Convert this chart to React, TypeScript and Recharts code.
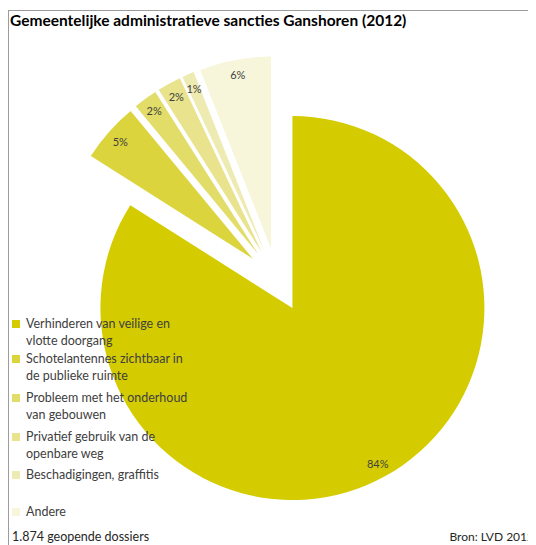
import { PieChart, Pie, Cell, Sector } from 'recharts';

const categories = [
  'Verhinderen van veilige en vlotte doorgang',
  'Schotelantennes zichtbaar in de publieke ruimte',
  'Probleem met het onderhoud van gebouwen',
  'Privatief gebruik van de openbare weg',
  'Beschadigingen, graffitis',
  'Andere',
];
const shares = [84, 5, 2, 2, 1, 6];
const colors = ['#D4CC00', '#DCD43C', '#E2DC68', '#E8E38C', '#EEEBB2', '#F7F5DA'];

const data = categories.map((name, i) => ({ name, value: shares[i] }));

const EXPLODE = 32;
const LABEL_R = 177;
const RADIAN = Math.PI / 180;

const ExplodedSlice = (props: any) => {
  const a = props.midAngle * RADIAN;
  return (
    <Sector
      cx={props.cx + EXPLODE * Math.cos(a)}
      cy={props.cy - EXPLODE * Math.sin(a)}
      innerRadius={props.innerRadius}
      outerRadius={props.outerRadius}
      startAngle={props.startAngle}
      endAngle={props.endAngle}
      fill={props.fill}
      stroke="none"
    />
  );
};

const renderLabel = ({ cx, cy, midAngle, percent }: any) => {
  const a = midAngle * RADIAN;
  const r = EXPLODE + LABEL_R;
  return (
    <text
      x={cx + r * Math.cos(a)}
      y={cy - r * Math.sin(a)}
      textAnchor="middle"
      dominantBaseline="central"
      fontSize={11}
      fill="#404040"
      fontFamily="Lato, sans-serif"
    >
      {`${Math.round(percent * 100)}%`}
    </text>
  );
};

const legendTops = [307, 342, 381, 420, 458, 495];
const legendLines = [
  ['Verhinderen van veilige en', 'vlotte doorgang'],
  ['Schotelantennes zichtbaar in', 'de publieke ruimte'],
  ['Probleem met het onderhoud', 'van gebouwen'],
  ['Privatief gebruik van de', 'openbare weg'],
  ['Beschadigingen, graffitis'],
  ['Andere'],
];

export default function App() {
  return (
    <div
      style={{
        position: 'relative',
        width: 528,
        height: 537,
        overflow: 'hidden',
        fontFamily: 'Lato, sans-serif',
        color: '#262626',
      }}
    >
      <div
        style={{
          position: 'absolute',
          left: 0,
          top: 2,
          width: 700,
          height: 700,
          borderTop: '1px solid #9c9c9c',
          borderLeft: '1px solid #9c9c9c',
        }}
      />
      <div
        style={{
          position: 'absolute',
          left: 2,
          top: 3,
          fontSize: 15.5,
          fontWeight: 700,
          color: '#000',
          whiteSpace: 'nowrap',
        }}
      >
        Gemeentelijke administratieve sancties Ganshoren (2012)
      </div>
      <div style={{ position: 'absolute', left: 0, top: 0 }}>
        <PieChart width={528} height={537}>
          <Pie
            data={data}
            dataKey="value"
            nameKey="name"
            cx={264}
            cy={267}
            outerRadius={192}
            startAngle={90}
            endAngle={-270}
            stroke="none"
            shape={ExplodedSlice}
            label={renderLabel}
            labelLine={false}
            isAnimationActive={false}
          >
            {data.map((d, i) => (
              <Cell key={d.name} fill={colors[i]} />
            ))}
          </Pie>
        </PieChart>
      </div>
      {legendLines.map((lines, i) => (
        <div
          key={i}
          style={{
            position: 'absolute',
            left: 4,
            top: legendTops[i],
            display: 'flex',
            alignItems: 'flex-start',
            fontSize: 12.5,
            lineHeight: '17px',
            color: '#404040',
          }}
        >
          <span
            style={{
              display: 'inline-block',
              width: 8,
              height: 8,
              marginTop: 5,
              marginRight: 6,
              background: colors[i],
            }}
          />
          <span>
            {lines.map((l) => (
              <div key={l} style={{ whiteSpace: 'nowrap' }}>
                {l}
              </div>
            ))}
          </span>
        </div>
      ))}
      <div style={{ position: 'absolute', left: 4, top: 521, fontSize: 12.5, color: '#262626', whiteSpace: 'nowrap' }}>
        1.874 geopende dossiers
      </div>
      <div style={{ position: 'absolute', right: 2, top: 521, fontSize: 12, color: '#262626', whiteSpace: 'nowrap' }}>
        Bron: LVD 2012
      </div>
    </div>
  );
}
